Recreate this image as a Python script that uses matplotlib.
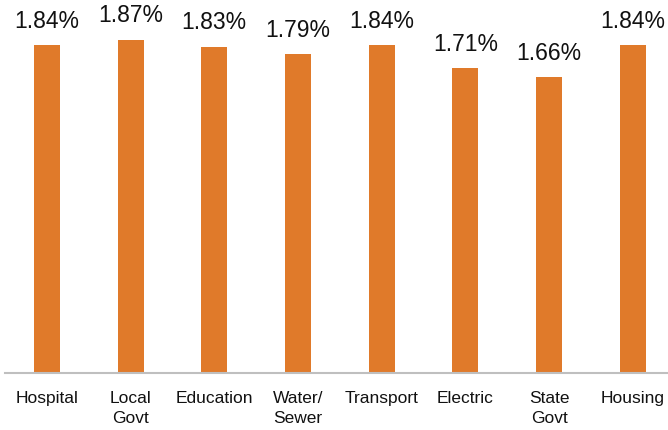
import numpy as np
import matplotlib
matplotlib.use("Agg")
import matplotlib.pyplot as plt

categories = ["Hospital", "Local\nGovt", "Education", "Water/\nSewer",
              "Transport", "Electric", "State\nGovt", "Housing"]
rates = [1.84, 1.87, 1.83, 1.79, 1.84, 1.71, 1.66, 1.84]
labels = ["%.2f%%" % r for r in rates]

plt.rcParams['font.family'] = ['Liberation Sans', 'DejaVu Sans']

W, H = 668, 430
fig = plt.figure(figsize=(W / 100, H / 100), dpi=100)
# plot area in pixels: baseline at y=372.7, left edge at x=5
left, base = 5, 372.7
ax = fig.add_axes([left / W, (H - base) / H, (W - left) / W, base / H])

x = np.arange(len(rates))
ax.bar(x, rates, width=0.31, color='#E07A2A', zorder=2)
ax.set_xlim(-0.5, -0.5 + (W - left) / 83.7)
ax.set_ylim(0, base / 178.1)

for xi, r, lab in zip(x, rates, labels):
    ax.annotate(lab, (xi, r), xytext=(0, 12.5), textcoords='offset points',
                ha='center', va='baseline', fontsize=16.5, color='#111111')

for s in ['top', 'right', 'left']:
    ax.spines[s].set_visible(False)
ax.spines['bottom'].set_color('#BFBFBF')
ax.spines['bottom'].set_linewidth(1.5)
ax.set_yticks([])
ax.set_xticks(x)
ax.set_xticklabels(categories, fontsize=12.5, color='#111111', linespacing=1.4)
ax.tick_params(axis='x', length=0, pad=13.5)

fig.savefig("out.png", dpi=100)
